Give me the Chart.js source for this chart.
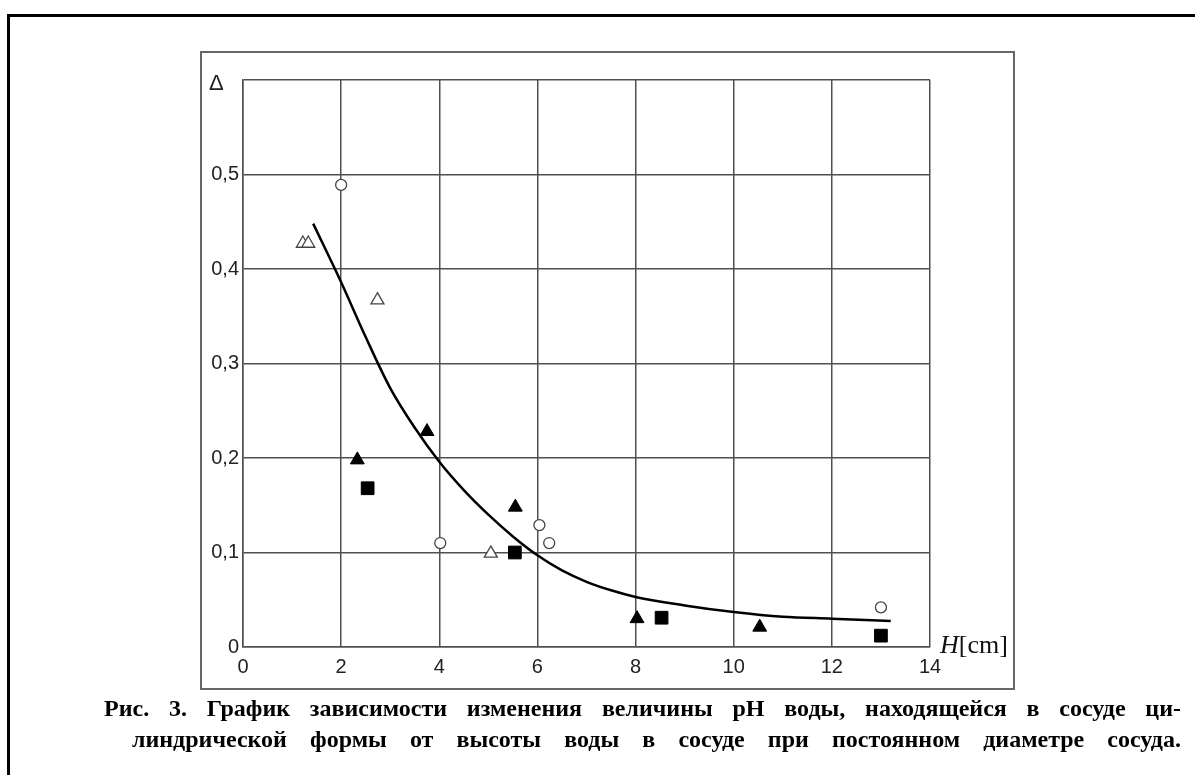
<!DOCTYPE html>
<html>
<head>
<meta charset="utf-8">
<script src="https://cdn.jsdelivr.net/npm/chart.js@4"></script>
<style>
  body { margin: 0; background: #fff; width: 1195px; height: 775px; overflow: hidden; position: relative; }
  #outer { position: absolute; left: 7px; top: 14px; width: 1220px; height: 800px; border-left: 3px solid #000; border-top: 3px solid #000; }
  #inner { position: absolute; left: 200px; top: 51px; width: 811px; height: 635px; border: 2px solid #666; }
  #c { position: absolute; left: 0; top: 0; }
  .lbl { position: absolute; line-height: 1; white-space: nowrap; color: #222; }
  #delta { left: 209px; top: 70px; font: 22px "Liberation Sans", Arial, sans-serif; }
  #hcm { left: 940px; top: 630px; font: 26px "Liberation Serif", "Times New Roman", serif; color: #111; }
  .cap { position: absolute; font: bold 24px "Liberation Serif", "Times New Roman", serif; color: #000;
         text-align: justify; text-align-last: justify; white-space: nowrap; line-height: 1; }
  #l1 { left: 104px; width: 1077px; top: 696px; }
  #l2 { left: 132px; width: 1049px; top: 727px; }
</style>
</head>
<body>
<div id="outer"></div>
<div id="inner"></div>
<canvas id="c" width="1195" height="775"></canvas>
<div class="lbl" id="delta">Δ</div>
<div class="lbl" id="hcm"><i>H</i>[cm]</div>
<div class="cap" id="l1">Рис. 3. График зависимости изменения величины pH воды, находящейся в сосуде ци-</div>
<div class="cap" id="l2">линдрической формы от высоты воды в сосуде при постоянном диаметре сосуда.</div>
<script>
// values
const circleX = [2.0, 4.02, 6.04, 6.24, 13.0];
const circleY = [0.489, 0.110, 0.129, 0.110, 0.042];

const openTriX = [1.22, 1.33, 2.74, 5.05];
const openTriY = [0.427, 0.427, 0.367, 0.099];

const fillTriX = [2.33, 3.75, 5.55, 8.03, 10.53];
const fillTriY = [0.198, 0.228, 0.148, 0.030, 0.021];

const squareX = [2.54, 5.54, 8.53, 13.0];
const squareY = [0.168, 0.100, 0.031, 0.012];

// fitted curve, traced
const curveX = [1.43, 2.0, 2.5, 3.0, 3.5, 4.0, 4.5, 5.0, 5.5, 6.0, 6.5, 7.0, 7.5, 8.0, 9.0, 10.0, 11.0, 12.0, 13.2];
const curveY = [0.448, 0.386, 0.328, 0.274, 0.232, 0.196, 0.166, 0.140, 0.117, 0.097, 0.081, 0.069, 0.060, 0.053, 0.044, 0.037, 0.032, 0.030, 0.0275];

const xMin = 0, xMax = 14, xStep = 2;
const yMin = 0, yMax = 0.6, yStep = 0.1;

function pts(xs, ys) {
  return xs.map((x, i) => ({ x: x, y: ys[i] }));
}

const gridColor = "#505050";
const tickFont = { family: "'Liberation Sans', Arial, sans-serif", size: 20 };

new Chart(document.getElementById("c"), {
  type: "scatter",
  data: {
    datasets: [
      {
        data: pts(circleX, circleY),
        pointStyle: "circle", pointRadius: 5.5,
        backgroundColor: "#fff", borderColor: "#444", borderWidth: 1.3, order: 0
      },
      {
        data: pts(openTriX, openTriY),
        pointStyle: "triangle", pointRadius: 7.5,
        backgroundColor: "#fff", borderColor: "#444", borderWidth: 1.3, order: 0
      },
      {
        data: pts(fillTriX, fillTriY),
        pointStyle: "triangle", pointRadius: 8,
        backgroundColor: "#000", borderColor: "#000", borderWidth: 1, order: 0
      },
      {
        data: pts(squareX, squareY),
        pointStyle: "rect", pointRadius: 9,
        backgroundColor: "#000", borderColor: "#000", borderWidth: 1, order: 0
      },
      {
        data: pts(curveX, curveY),
        showLine: true, pointRadius: 0,
        borderColor: "#000", borderWidth: 2.5,
        cubicInterpolationMode: "monotone", order: 10
      }
    ]
  },
  options: {
    responsive: false,
    animation: false,
    devicePixelRatio: 1,
    layout: { padding: { left: 203, right: 265, top: 80, bottom: 98 } },
    plugins: { legend: { display: false }, tooltip: { enabled: false } },
    scales: {
      x: {
        type: "linear", min: xMin, max: xMax,
        ticks: { stepSize: xStep, color: "#222", font: tickFont, padding: 8 },
        grid: { color: gridColor, lineWidth: 1.5, drawTicks: false },
        border: { color: gridColor, width: 1.5 },
        afterFit: s => { s.height = 30; }
      },
      y: {
        type: "linear", min: yMin, max: yMax,
        ticks: {
          stepSize: yStep, color: "#222", font: tickFont, padding: 4,
          callback: v => {
            if (Math.abs(v) < 1e-9) return "0";
            if (Math.abs(v - yMax) < 1e-9) return "";
            return v.toFixed(1).replace(".", ",");
          }
        },
        grid: { color: gridColor, lineWidth: 1.5, drawTicks: false },
        border: { color: gridColor, width: 1.5 },
        afterFit: s => { s.width = 40; }
      }
    }
  }
});
</script>
</body>
</html>
